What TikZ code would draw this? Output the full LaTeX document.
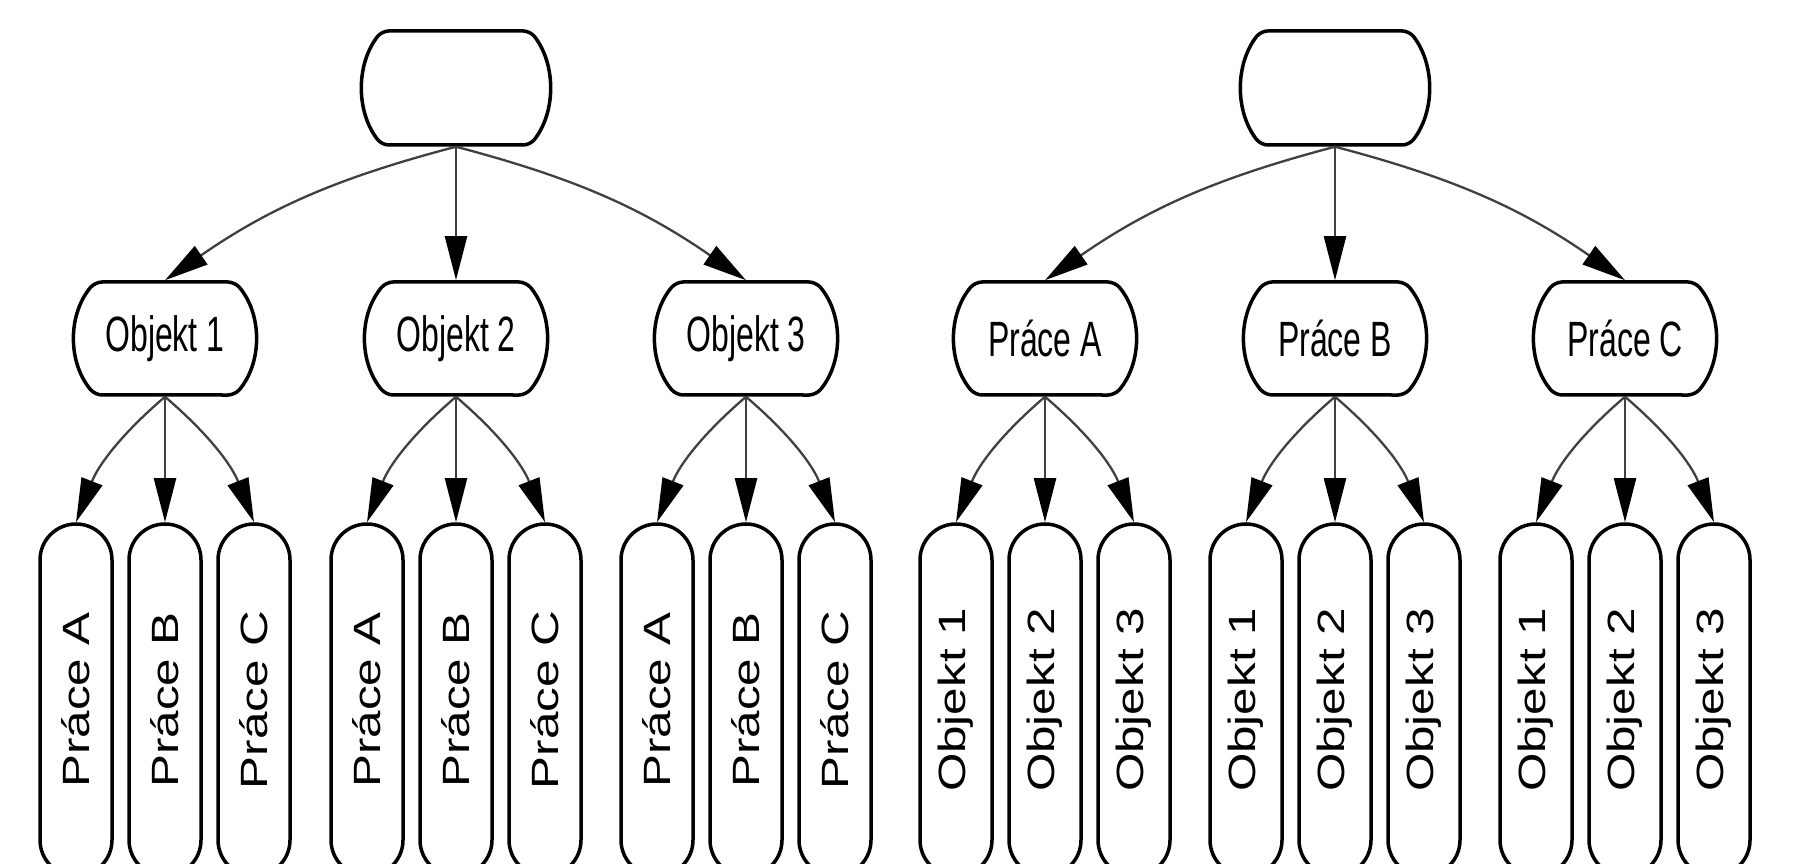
\documentclass[tikz,border=0pt]{standalone}
\usepackage{xcolor}
\usepackage{graphicx}
\usepackage{fontspec}
\setmainfont{Liberation Sans}
\usepackage{tikz}
\usetikzlibrary{arrows.meta,shapes.misc}

\newcommand{\hlabel}[1]{\scalebox{1}[1.55]{#1}}
\newcommand{\vlabel}[1]{\scalebox{1.3}[1]{#1}}

\tikzset{
    rootbox/.style={draw,fill=white,line width=3.5pt,rounded corners=7pt,rounded rectangle,rounded rectangle arc length=75,
        minimum width=151pt,minimum height=114pt,inner sep=0pt},
    midbox/.style={draw,fill=white,line width=3.5pt,rounded corners=7pt,rounded rectangle,rounded rectangle arc length=80,
        minimum width=181pt,minimum height=113pt,inner sep=0pt,font=\fontsize{32}{36}\selectfont},
    leafbox/.style={draw,fill=white,line width=3.5pt,rounded rectangle,rounded rectangle arc length=180,
        rotate=90,minimum width=352pt,minimum height=72pt,inner sep=0pt,font=\fontsize{38}{42}\selectfont},
    conn/.style={line width=2.3pt,draw=black!75,-{Triangle[length=44pt,width=22pt,color=black]}}
}

\begin{document}
\begin{tikzpicture}[x=1pt,y=1pt]
    \useasboundingbox (0,0) rectangle (1793,864);

    \node[rootbox](root1) at (456,776) {};
    \node[rootbox](root2) at (1335,776) {};

    \node[midbox](o1) at (165,525.5) {\hlabel{Objekt 1}};
    \node[midbox](o2) at (456,525.5) {\hlabel{Objekt 2}};
    \node[midbox](o3) at (746,525.5) {\hlabel{Objekt 3}};
    \node[midbox](pa) at (1045,525.5) {\hlabel{Práce A}};
    \node[midbox](pb) at (1335,525.5) {\hlabel{Práce B}};
    \node[midbox](pc) at (1625,525.5) {\hlabel{Práce C}};

    \node[leafbox](o1a) at (76,164) {\vlabel{Práce A}};
    \node[leafbox](o1b) at (165,164) {\vlabel{Práce B}};
    \node[leafbox](o1c) at (254,164) {\vlabel{Práce C}};
    \node[leafbox](o2a) at (367,164) {\vlabel{Práce A}};
    \node[leafbox](o2b) at (456,164) {\vlabel{Práce B}};
    \node[leafbox](o2c) at (545,164) {\vlabel{Práce C}};
    \node[leafbox](o3a) at (657,164) {\vlabel{Práce A}};
    \node[leafbox](o3b) at (746,164) {\vlabel{Práce B}};
    \node[leafbox](o3c) at (835,164) {\vlabel{Práce C}};

    \node[leafbox](pa1) at (956,164) {\vlabel{Objekt 1}};
    \node[leafbox](pa2) at (1045,164) {\vlabel{Objekt 2}};
    \node[leafbox](pa3) at (1134,164) {\vlabel{Objekt 3}};
    \node[leafbox](pb1) at (1246,164) {\vlabel{Objekt 1}};
    \node[leafbox](pb2) at (1335,164) {\vlabel{Objekt 2}};
    \node[leafbox](pb3) at (1424,164) {\vlabel{Objekt 3}};
    \node[leafbox](pc1) at (1536,164) {\vlabel{Objekt 1}};
    \node[leafbox](pc2) at (1625,164) {\vlabel{Objekt 2}};
    \node[leafbox](pc3) at (1714,164) {\vlabel{Objekt 3}};

    \draw[conn] (root1.south) to[bend right=10] (o1.north);
    \draw[conn] (root1.south) -- (o2.north);
    \draw[conn] (root1.south) to[bend left=10] (o3.north);
    \draw[conn] (root2.south) to[bend right=10] (pa.north);
    \draw[conn] (root2.south) -- (pb.north);
    \draw[conn] (root2.south) to[bend left=10] (pc.north);

    \draw[conn] (o1.south) to[bend right=14] (o1a.east);
    \draw[conn] (o1.south) -- (o1b.east);
    \draw[conn] (o1.south) to[bend left=14] (o1c.east);
    \draw[conn] (o2.south) to[bend right=14] (o2a.east);
    \draw[conn] (o2.south) -- (o2b.east);
    \draw[conn] (o2.south) to[bend left=14] (o2c.east);
    \draw[conn] (o3.south) to[bend right=14] (o3a.east);
    \draw[conn] (o3.south) -- (o3b.east);
    \draw[conn] (o3.south) to[bend left=14] (o3c.east);

    \draw[conn] (pa.south) to[bend right=14] (pa1.east);
    \draw[conn] (pa.south) -- (pa2.east);
    \draw[conn] (pa.south) to[bend left=14] (pa3.east);
    \draw[conn] (pb.south) to[bend right=14] (pb1.east);
    \draw[conn] (pb.south) -- (pb2.east);
    \draw[conn] (pb.south) to[bend left=14] (pb3.east);
    \draw[conn] (pc.south) to[bend right=14] (pc1.east);
    \draw[conn] (pc.south) -- (pc2.east);
    \draw[conn] (pc.south) to[bend left=14] (pc3.east);
\end{tikzpicture}
\end{document}
